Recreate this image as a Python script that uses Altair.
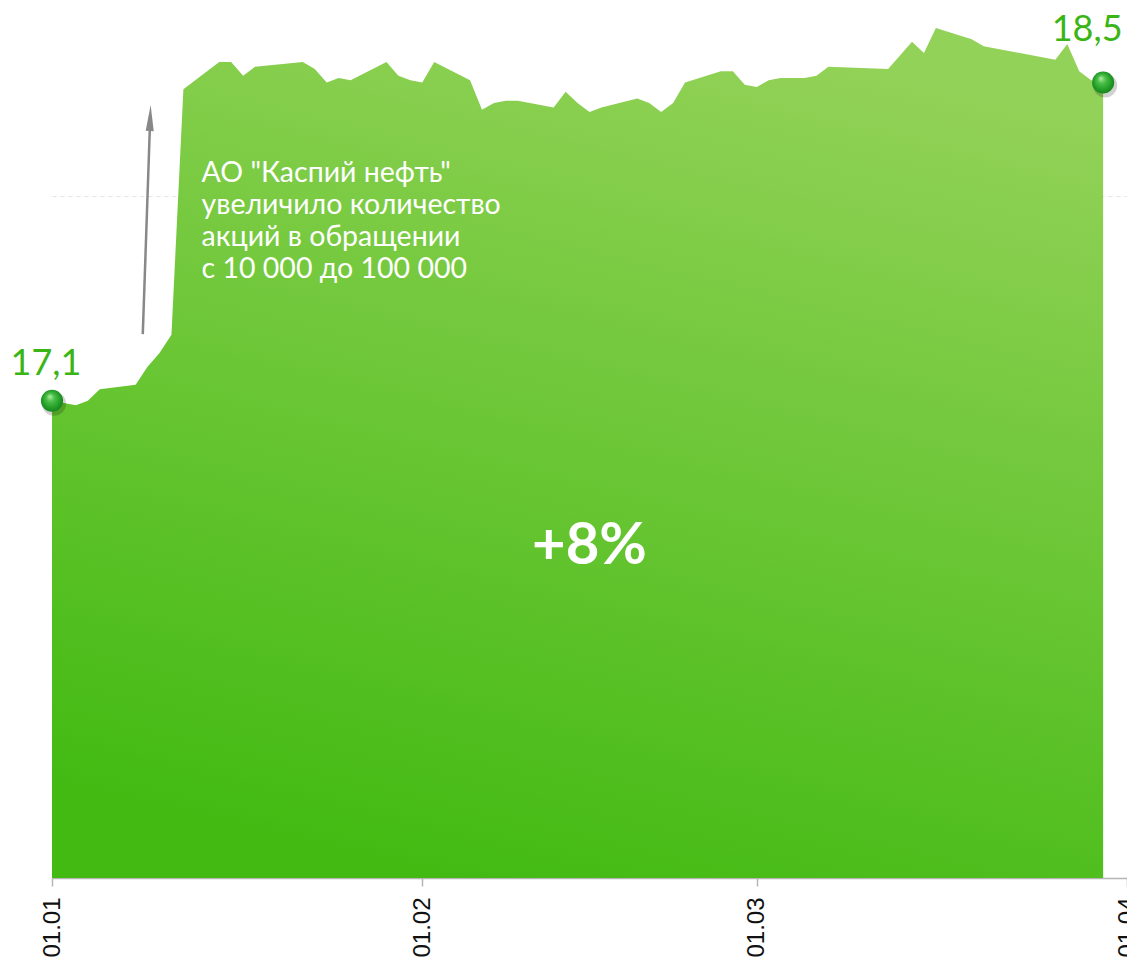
import altair as alt
import pandas as pd

# ---- data ----
dates = [
    "2015-01-01", "2015-01-03", "2015-01-04", "2015-01-05", "2015-01-08", "2015-01-09",
    "2015-01-10", "2015-01-11", "2015-01-12", "2015-01-15", "2015-01-16", "2015-01-17",
    "2015-01-18", "2015-01-22", "2015-01-23", "2015-01-24", "2015-01-25", "2015-01-26",
    "2015-01-29", "2015-01-30", "2015-01-31",
    "2015-02-01", "2015-02-02", "2015-02-05", "2015-02-06", "2015-02-07", "2015-02-08",
    "2015-02-09", "2015-02-12", "2015-02-13", "2015-02-14", "2015-02-15", "2015-02-16",
    "2015-02-19", "2015-02-20", "2015-02-21", "2015-02-22", "2015-02-23", "2015-02-26",
    "2015-02-27", "2015-02-28",
    "2015-03-01", "2015-03-02", "2015-03-03", "2015-03-05", "2015-03-06", "2015-03-07",
    "2015-03-12", "2015-03-14", "2015-03-15", "2015-03-16", "2015-03-19", "2015-03-20",
    "2015-03-26", "2015-03-27", "2015-03-28", "2015-03-29", "2015-03-30",
]
prices = [
    17.10, 17.08, 17.10, 17.15, 17.17, 17.25,
    17.31, 17.39, 18.47, 18.59, 18.59, 18.53,
    18.57, 18.59, 18.56, 18.50, 18.52, 18.51,
    18.59, 18.53, 18.51,
    18.50, 18.59, 18.51, 18.38, 18.41, 18.42,
    18.42, 18.39, 18.46, 18.41, 18.37, 18.39,
    18.43, 18.41, 18.37, 18.41, 18.50, 18.55,
    18.55, 18.49,
    18.48, 18.51, 18.52, 18.52, 18.53, 18.57,
    18.56, 18.68, 18.63, 18.74, 18.69, 18.66,
    18.60, 18.67, 18.55, 18.51, 18.50,
]
tick_months = [1, 2, 3, 4]
grid_values = [18]
y_domain = [15, 18.828]

annotation_lines = [
    'АО "Каспий нефть"',
    "увеличило количество",
    "акций в обращении",
    "с 10 000 до 100 000",
]
annotation_anchor = ["2015-01-13T12:30:00", 18.062]
arrow_start = ["2015-01-08T14:24:00", 17.393]
arrow_end = ["2015-01-09T05:17:00", 18.344]
pct_anchor = ["2015-02-15T00:00:00", 16.38]

# ---- tables ----
df = pd.DataFrame({"date": [d + "T00:00:00" for d in dates], "price": prices})
df["label"] = [f"{p:.1f}".replace(".", ",") for p in prices]
ends = df.iloc[[0, len(df) - 1]].reset_index(drop=True)
start_df = ends.iloc[[0]]
end_df = ends.iloc[[1]]

pct = round((prices[-1] - prices[0]) / prices[0] * 100)
pct_df = pd.DataFrame({"date": [pct_anchor[0]], "price": [pct_anchor[1]], "label": [f"+{pct}%"]})
ann_df = pd.DataFrame({"date": [annotation_anchor[0]], "price": [annotation_anchor[1]],
                       "label": ["\n".join(annotation_lines)]})
arrow_df = pd.DataFrame({"date": [arrow_start[0]], "price": [arrow_start[1]],
                         "date2": [arrow_end[0]], "price2": [arrow_end[1]]})
head_df = pd.DataFrame({"date": [arrow_end[0]], "price": [arrow_end[1]]})

# ---- encodings ----
x_enc = alt.X(
    "date:T",
    title=None,
    scale=alt.Scale(domain=[alt.DateTime(year=2015, month=1, date=1),
                            alt.DateTime(year=2015, month=4, date=1)], nice=False),
    axis=alt.Axis(
        values=[alt.DateTime(year=2015, month=m, date=1) for m in tick_months],
        format="%d.%m", labelAngle=-90, labelFont="Liberation Sans", labelFontSize=24,
        labelColor="#111111", labelPadding=11, tickSize=8, tickColor="#b5b5b5",
        domainColor="#b5b5b5", domainWidth=1.5, tickWidth=1.5, grid=False,
        labelOverlap=False, labelBound=False, labelFlush=False,
    ),
)
y_enc = alt.Y(
    "price:Q",
    title=None,
    scale=alt.Scale(domain=y_domain, zero=False, nice=False),
    axis=alt.Axis(values=grid_values, labels=False, ticks=False, domain=False, grid=True,
                  gridDash=[4, 4], gridColor="#e4e4e4", gridWidth=1),
)

area_fill = alt.LinearGradient(
    gradient="linear",
    stops=[alt.GradientStop(color="#42ba12", offset=0),
           alt.GradientStop(color="#93d258", offset=1)],
    x1=0.35, y1=1, x2=0.65, y2=0,
)
dot_fill = alt.RadialGradient(
    gradient="radial",
    stops=[alt.GradientStop(color="#b8f0a4", offset=0),
           alt.GradientStop(color="#4cc049", offset=0.3),
           alt.GradientStop(color="#1f9a25", offset=0.7),
           alt.GradientStop(color="#137818", offset=1)],
    x1=0.4, y1=0.3, r1=0, x2=0.5, y2=0.5, r2=0.6,
)

area = alt.Chart(df).mark_area(color=area_fill, interpolate="linear").encode(
    x=x_enc, y=y_enc, y2=alt.datum(y_domain[0]))

shadow = alt.Chart(ends).mark_circle(size=580, color="#000000", opacity=0.18, xOffset=2, yOffset=3).encode(
    x="date:T", y="price:Q")
dots = alt.Chart(ends).mark_circle(size=490, color=dot_fill, opacity=1).encode(x="date:T", y="price:Q")

label_style = dict(font="Lato", fontSize=36, color="#3bb516", align="center", baseline="alphabetic")
start_label = alt.Chart(start_df).mark_text(dx=-6, dy=-26, **label_style).encode(
    x="date:T", y="price:Q", text="label:N")
end_label = alt.Chart(end_df).mark_text(dx=-16, dy=-42, **label_style).encode(
    x="date:T", y="price:Q", text="label:N")

pct_text = alt.Chart(pct_df).mark_text(font="Lato", fontWeight="bold", fontSize=58, color="white",
                                       align="center", baseline="alphabetic").encode(
    x="date:T", y="price:Q", text="label:N")

ann_text = alt.Chart(ann_df).mark_text(font="Lato", fontSize=28.5, color="white", align="left",
                                       baseline="alphabetic", lineBreak="\n", lineHeight=32).encode(
    x="date:T", y="price:Q", text="label:N")

arrow_line = alt.Chart(arrow_df).mark_rule(color="#888888", strokeWidth=2.5).encode(
    x="date:T", y="price:Q", x2="date2:T", y2="price2:Q")
arrow_head = alt.Chart(head_df).mark_point(shape="M0,-1L0.31,1L-0.31,1Z", filled=True, size=676,
                                           angle=2, color="#888888", opacity=1).encode(
    x="date:T", y="price:Q")

chart = alt.layer(
    area, arrow_line, arrow_head, ann_text, pct_text, shadow, dots, start_label, end_label
).properties(
    width=1075, height=870,
    padding={"left": 44, "top": 0, "right": 0, "bottom": 80},
    autosize=alt.AutoSizeParams(type="none"),
    background="white",
).configure_view(stroke=None)

chart.save("out.html", embed_options={"renderer": "svg", "actions": False})
